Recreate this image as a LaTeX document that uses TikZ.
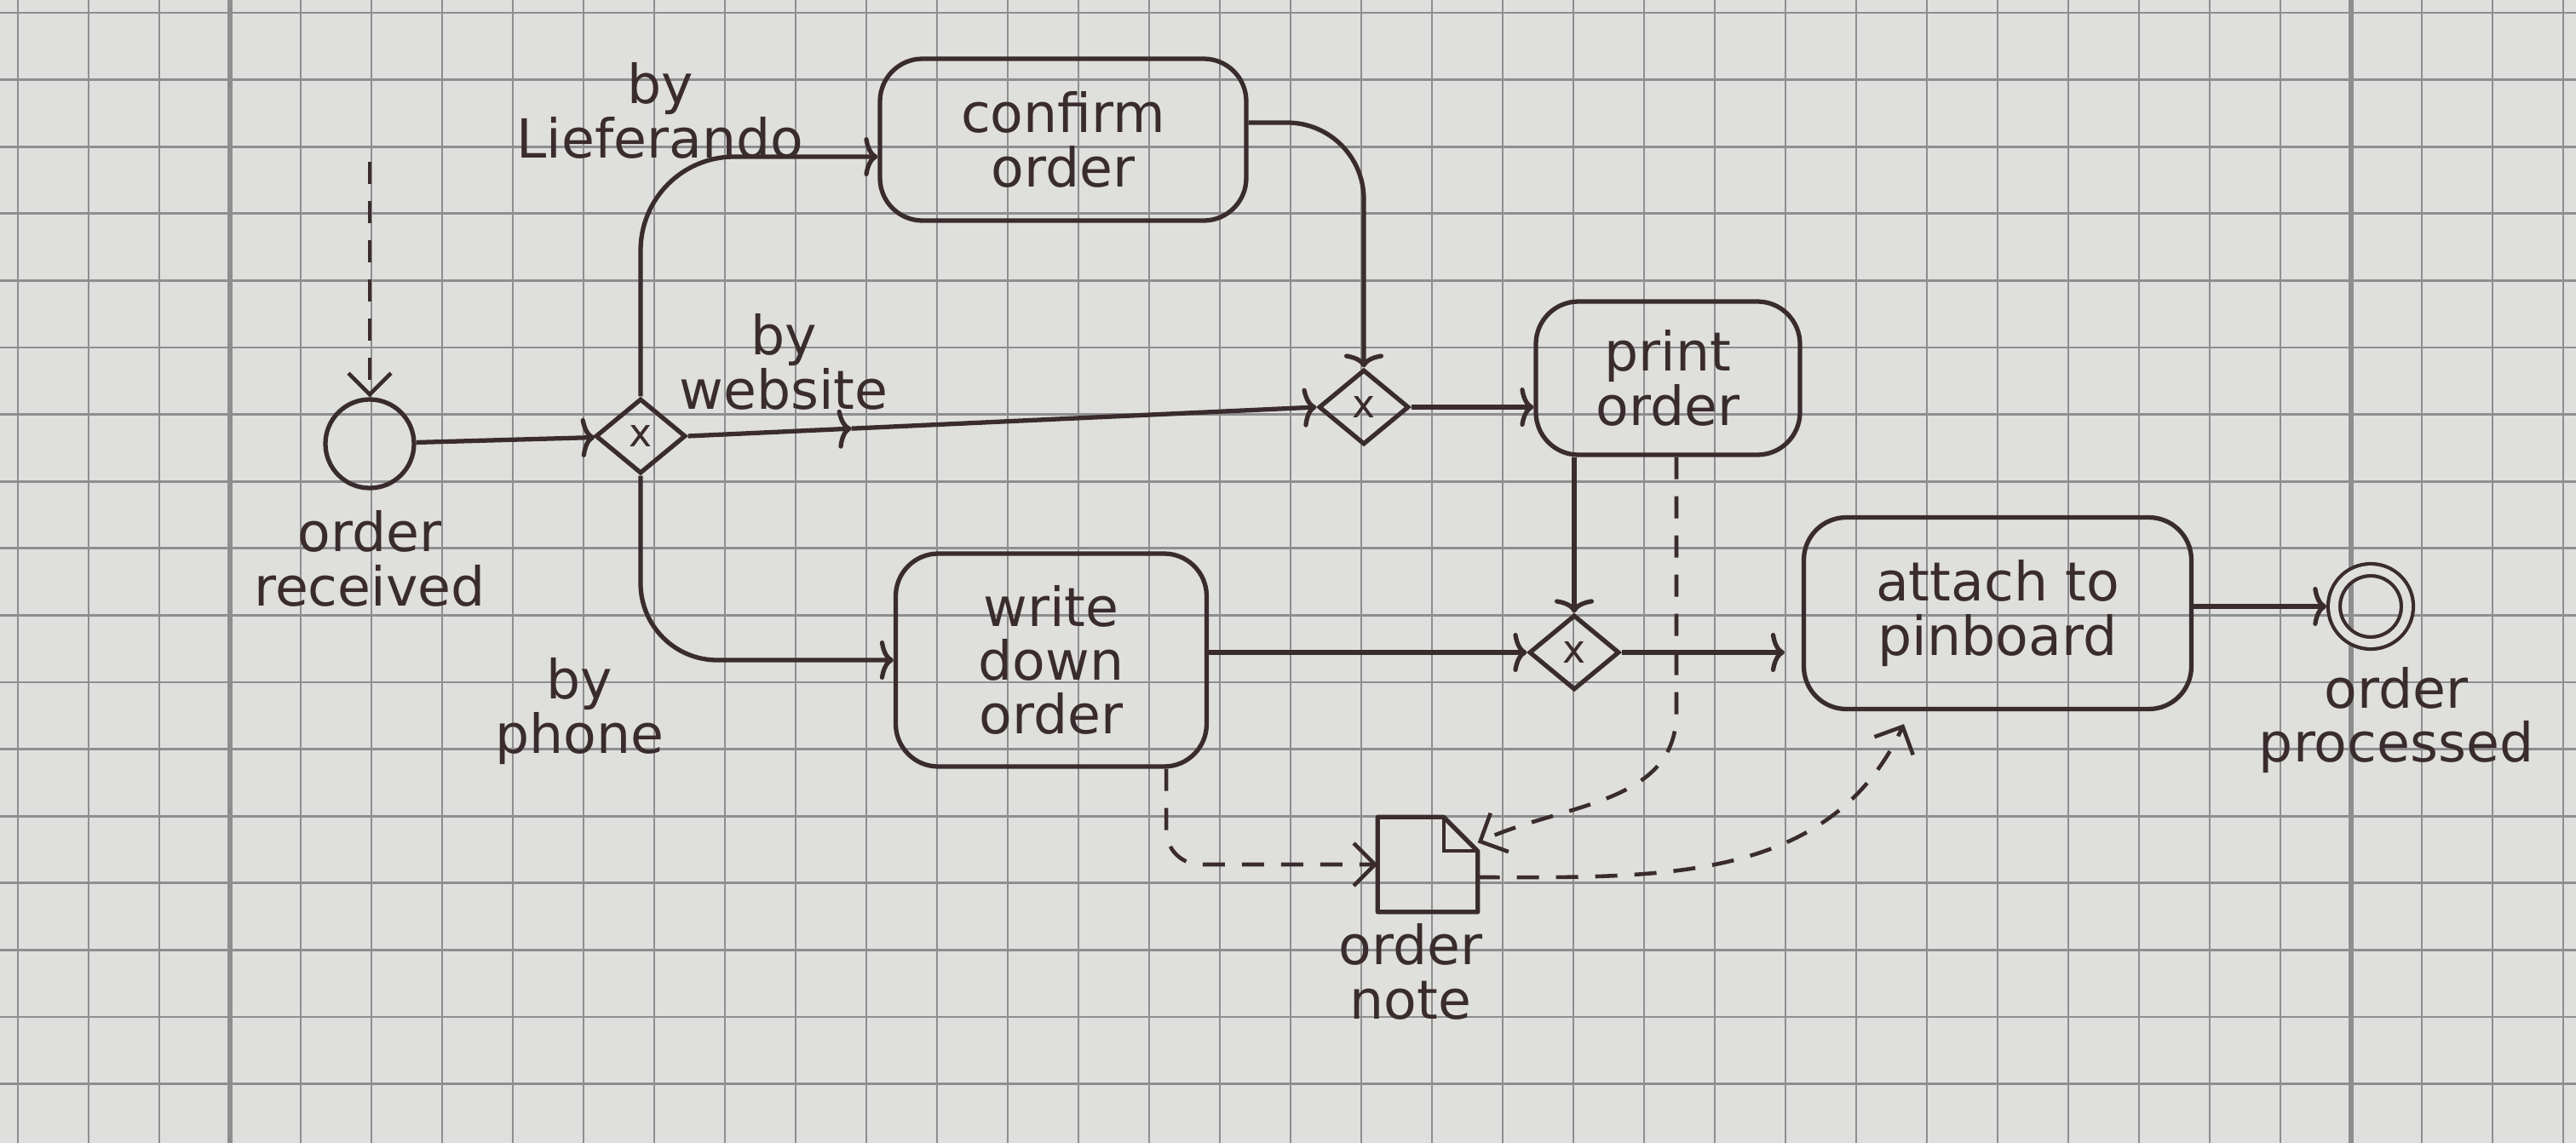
\documentclass[tikz,border=0pt]{standalone}
\usepackage{fontspec}
\usetikzlibrary{positioning}
\usetikzlibrary{shapes.geometric}
\usetikzlibrary{arrows.meta}
\usetikzlibrary{calc}
\newfontfamily\handfamily{DejaVu Sans}
\newcommand{\handfont}{\handfamily\fontsize{18}{18}\selectfont}
\definecolor{ink}{RGB}{58,44,46}
\definecolor{paper}{RGB}{223,223,221}
\definecolor{gridgray}{RGB}{142,142,142}
\tikzset{task/.style={rectangle,rounded corners=5mm,draw=ink,line width=1.5pt,
text=ink,align=center,font=\handfont}}
\tikzset{gateway/.style={diamond,draw=ink,line width=1.5pt,text=ink,inner sep=0pt,
minimum width=10.6mm,minimum height=8.8mm,font=\handfamily\fontsize{13}{13}\selectfont}}
\tikzset{startev/.style={circle,draw=ink,line width=1.5pt,minimum size=10.4mm,inner sep=0pt}}
\tikzset{endev/.style={circle,draw=ink,line width=1.2pt,double=paper,double distance=2.8pt,
minimum size=8.6mm,inner sep=0pt,outer sep=2.5pt}}
\tikzset{dataobj/.style={rectangle,draw=none,minimum width=11.6mm,minimum height=11mm,inner sep=0pt}}
\tikzset{lbl/.style={text=ink,align=center,font=\handfont,inner sep=1pt}}
\tikzset{flow/.style={draw=ink,line width=1.5pt,-{To[length=1.6mm,width=4.6mm]}}}
\tikzset{assoc/.style={draw=ink,line width=1.3pt,dash pattern=on 2.6mm off 2mm,
-{Straight Barb[length=2.5mm,width=5mm]}}}
\tikzset{gridline/.style={draw=gridgray,line width=0.8pt}}

\begin{document}
\begin{tikzpicture}[x=1cm,y=1cm]

    \fill[paper] (0,0) rectangle (30.24,-13.42);
    \useasboundingbox (0,0) rectangle (30.24,-13.42);

    % squared paper
    \foreach \gx in {-3,...,33}
        \draw[gridline] ({2.70+0.83*\gx},0) -- ({2.70+0.83*\gx},-13.42);
    \foreach \gy in {0,...,16}
        \draw[gridline] (0,{-0.15-0.786*\gy}) -- (30.24,{-0.15-0.786*\gy});
    \draw[gridline,line width=1.6pt] (2.70,0) -- (2.70,-13.42);
    \draw[gridline,line width=1.6pt] (27.60,0) -- (27.60,-13.42);

    \node[startev] (start) at (4.34,-5.21) {};
    \node[gateway] (gw1) at (7.52,-5.12) {x};
    \node[task,minimum width=43mm,minimum height=19mm] (confirm) at (12.48,-1.64) {confirm\\order};
    \node[gateway] (gw2) at (16.01,-4.78) {x};
    \node[task,minimum width=31mm,minimum height=18mm] (print) at (19.58,-4.44) {print\\order};
    \node[task,minimum width=36.5mm,minimum height=25mm] (write) at (12.34,-7.75) {write\\down\\order};
    \node[gateway] (gw3) at (18.48,-7.66) {x};
    \node[task,minimum width=45.5mm,minimum height=22.5mm] (attach) at (23.45,-7.2) {attach to\\pinboard};
    \node[endev] (finish) at (27.83,-7.12) {};
    \node[dataobj] (note) at (16.76,-10.15) {};

    \draw[ink,line width=1.5pt,line join=round] (note.north west) -- ([xshift=-4mm]note.north east)
        -- ([yshift=-4mm]note.north east) -- (note.south east) -- (note.south west) -- cycle;
    \draw[ink,line width=1.2pt] ([xshift=-4mm]note.north east) |- ([yshift=-4mm]note.north east);

    \node[lbl,below=2mm of start] (startlbl) {order\\received};
    \node[lbl] (lieflbl) at (7.75,-1.3) {by\\Lieferando};
    \node[lbl] (weblbl) at (9.2,-4.25) {by\\website};
    \node[lbl] (phonelbl) at (6.8,-8.35) {by\\phone};
    \node[lbl,below=1.5mm of finish,xshift=3mm] (finishlbl) {order\\processed};
    \node[lbl,below=1mm of note,xshift=-2mm] (notelbl) {order\\note};

    \coordinate (msgsrc) at (4.34,-1.9);
    \draw[assoc] (msgsrc) -- (start);
    \draw[flow] (start) -- (gw1);
    \draw[flow,rounded corners=11mm] (gw1.north) |- ([yshift=-2mm]confirm.west);
    \draw[flow,rounded corners=9mm] ([yshift=2mm]confirm.east) -| (gw2.north);

    \coordinate (webmid) at ($(gw1.east)!0.26!(gw2.west)$);
    \draw[flow] (gw1.east) -- (webmid);
    \draw[flow] (webmid) -- (gw2.west);
    \draw[flow] (gw2.east) -- (gw2.east -| print.west);
    \draw[flow] (print.south -| gw3) -- (gw3.north);
    \draw[flow,rounded corners=9mm] (gw1.south) |- (write.west);
    \draw[flow] (write.east |- gw3) -- (gw3.west);
    \draw[flow] (gw3.east) -- ([xshift=-2mm]gw3.east -| attach.west);
    \draw[flow] (attach.east |- finish) -- (finish.west);

    \draw[assoc,rounded corners=4mm] ([xshift=-5mm]write.south east) |- (note.west);
    \draw[assoc] ([xshift=1mm]print.south) -- ++(0,-3.0) to[out=-90,in=25] ([yshift=-3mm]note.north east);
    \draw[assoc] ([yshift=-1.5mm]note.east) to[out=0,in=-115] ([xshift=-11mm,yshift=-1.5mm]attach.south);

\end{tikzpicture}
\end{document}
